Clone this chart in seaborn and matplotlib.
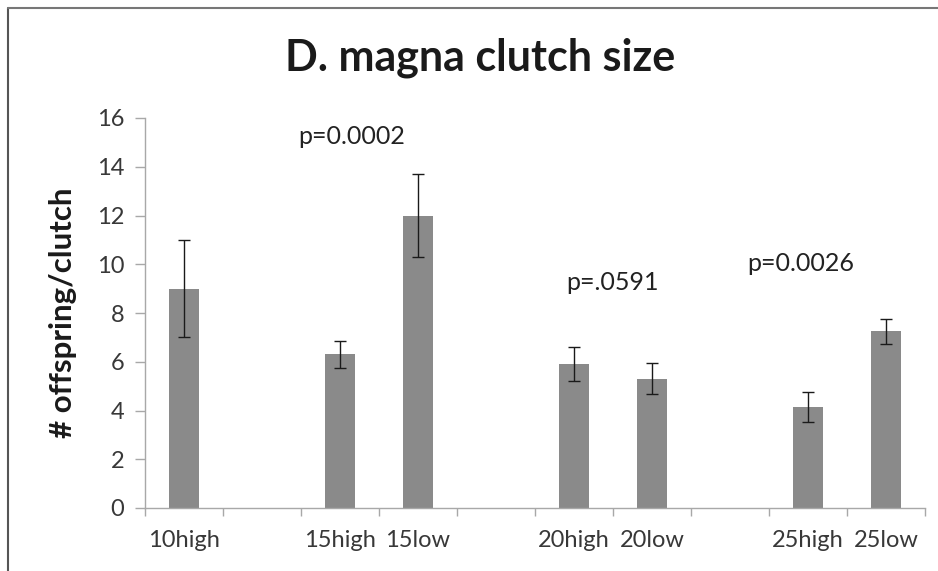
import matplotlib
matplotlib.use("Agg")
import matplotlib.pyplot as plt
import seaborn as sns
import pandas as pd
from matplotlib.lines import Line2D

# ---- data ----
order = ["10high", " ", "15high", "15low", "  ", "20high", "20low", "   ", "25high", "25low"]
groups = ["10high", "15high", "15low", "20high", "20low", "25high", "25low"]
means = [9.0, 6.3, 12.0, 5.9, 5.3, 4.15, 7.25]
errors = [2.0, 0.55, 1.7, 0.7, 0.63, 0.62, 0.52]
p_labels = ["p=0.0002", "p=.0591", "p=0.0026"]
p_x = [2.15, 5.49, 7.91]
p_y = [15.25, 9.26, 10.04]
title = "D. magna clutch size"
ylabel = "# offspring/clutch"

sns.set_theme(style="white")
plt.rcParams['font.family'] = ['Lato', 'DejaVu Sans']

fig = plt.figure(figsize=(9.38, 5.71), dpi=100)
ax = fig.add_axes([145/938, 1-508/571, 780/938, 390/571])

df = pd.DataFrame({"group": groups, "mean": means, "err": errors})
sns.barplot(data=df, x="group", y="mean", order=order, color="#8a8a8a",
            saturation=1, width=0.385, errorbar=None, ax=ax, linewidth=0)

# error bars at the bar centres
pos = [order.index(g) for g in groups]
ax.errorbar(pos, means, yerr=errors, fmt="none", ecolor="#1a1a1a",
            elinewidth=1.0, capsize=4.5, capthick=1.0)

ax.set_xlim(-0.5, len(order) - 0.5)
ax.set_ylim(0, 16)
ax.set_yticks(range(0, 17, 2))
ax.set_xlabel("")
ax.set_ylabel(ylabel, fontsize=22.5, fontweight="bold", color="#1a1a1a")
ax.yaxis.set_label_coords(-0.087, 0.5)

for s in ["top", "right"]:
    ax.spines[s].set_visible(False)
for s in ["left", "bottom"]:
    ax.spines[s].set_color("#a8a8a8")
    ax.spines[s].set_linewidth(1.0)

ax.tick_params(axis="y", which="major", length=7, width=1, color="#a8a8a8",
               labelsize=17, labelcolor="#383838", pad=8, left=True)
ax.tick_params(axis="x", which="major", length=0, labelsize=17,
               labelcolor="#383838", pad=16)
ax.set_xticks([i + 0.5 for i in range(-1, len(order))], minor=True)
ax.tick_params(axis="x", which="minor", length=6, width=1, color="#a8a8a8",
               bottom=True)

for lab, x, y in zip(p_labels, p_x, p_y):
    ax.text(x, y, lab, ha="center", va="center", fontsize=18, color="#222222")

fig.text(480/938, 1 - 58/571, title, ha="center", va="center",
         fontsize=31, fontweight="bold", color="#1a1a1a")

# chart-area border (left and top edges visible)
fig.add_artist(Line2D([8/938, 8/938], [0, 1 - 8/571], transform=fig.transFigure,
                      color="#555555", linewidth=1.5))
fig.add_artist(Line2D([8/938, 1], [1 - 8/571, 1 - 8/571], transform=fig.transFigure,
                      color="#777777", linewidth=1.5))

fig.savefig("out.png", dpi=100)
